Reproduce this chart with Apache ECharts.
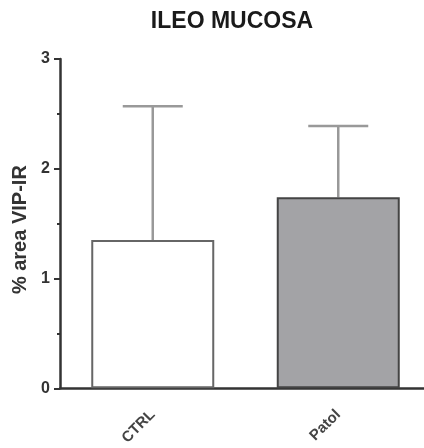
<!DOCTYPE html>
<html>
<head>
<meta charset="utf-8">
<script src="https://cdn.jsdelivr.net/npm/echarts@6/dist/echarts.min.js"></script>
<style>html,body{margin:0;padding:0;background:#fff}#wrap{width:424px;height:448px;overflow:hidden;position:relative}#c{width:432px;height:448px;position:absolute;left:0;top:0}</style>
</head>
<body>
<div id="wrap"><div id="c"></div></div>
<script>
var titleText = 'ILEO MUCOSA';
var yAxisName = '% area VIP-IR';
var categories = ['CTRL', 'Patol'];
var means = [1.35, 1.74];
var errUpper = [2.57, 2.39];
var barFills = ['#ffffff', '#a3a3a6'];
var barBorders = ['#666666', '#444444'];
var yTicks = [0, 1, 2, 3];

var chart = echarts.init(document.getElementById('c'), null, {renderer: 'canvas'});
var errData = categories.map(function (c, i) { return [i, means[i], errUpper[i]]; });

chart.setOption({
  animation: false,
  backgroundColor: '#ffffff',
  title: {
    text: titleText,
    left: 227, top: 5, textAlign: 'center',
    textStyle: {fontFamily: 'Liberation Sans, Arial', fontWeight: 'bold', fontSize: 23, color: '#1a1a1a'}
  },
  grid: {left: 60, top: 59, bottom: 59, right: 1, containLabel: false},
  xAxis: {
    type: 'category',
    data: categories,
    axisLine: {lineStyle: {color: '#333', width: 2.5}},
    axisTick: {alignWithLabel: true, length: 5, lineStyle: {color: '#333', width: 2}},
    axisLabel: {rotate: 45, margin: 24, fontFamily: 'Liberation Sans, Arial', fontWeight: 'bold', fontSize: 15, color: '#444'}
  },
  yAxis: {
    type: 'value',
    min: yTicks[0], max: yTicks[yTicks.length - 1], interval: 1,
    name: yAxisName, nameLocation: 'middle', nameGap: 29, nameRotate: 90,
    nameTextStyle: {fontFamily: 'Liberation Sans, Arial', fontWeight: 'bold', fontSize: 20, color: '#333', padding: [0, 12, 0, 0]},
    axisLine: {show: true, lineStyle: {color: '#333', width: 2.5}},
    axisTick: {show: true, length: 6, lineStyle: {color: '#333', width: 2}},
    minorTick: {show: true, splitNumber: 2, length: 3, lineStyle: {color: '#333', width: 2}},
    splitLine: {show: false},
    axisLabel: {margin: 10, fontFamily: 'Liberation Sans, Arial', fontWeight: 'bold', fontSize: 16, color: '#333'}
  },
  series: [
    {
      type: 'bar',
      barWidth: 123,
      data: means.map(function (v, i) {
        return {value: v, itemStyle: {color: barFills[i], borderColor: barBorders[i], borderWidth: 2}};
      }),
      z: 2
    },
    {
      type: 'custom',
      data: errData,
      z: 1,
      renderItem: function (params, api) {
        var i = api.value(0);
        var base = api.coord([i, api.value(1)]);
        var top = api.coord([i, api.value(2)]);
        var half = 30;
        return {
          type: 'group',
          children: [
            {type: 'line', shape: {x1: top[0], y1: base[1], x2: top[0], y2: top[1]}, style: {stroke: '#999', lineWidth: 2.5}},
            {type: 'line', shape: {x1: top[0] - half, y1: top[1], x2: top[0] + half, y2: top[1]}, style: {stroke: '#999', lineWidth: 2.5}}
          ]
        };
      }
    }
  ]
});
</script>
</body>
</html>
